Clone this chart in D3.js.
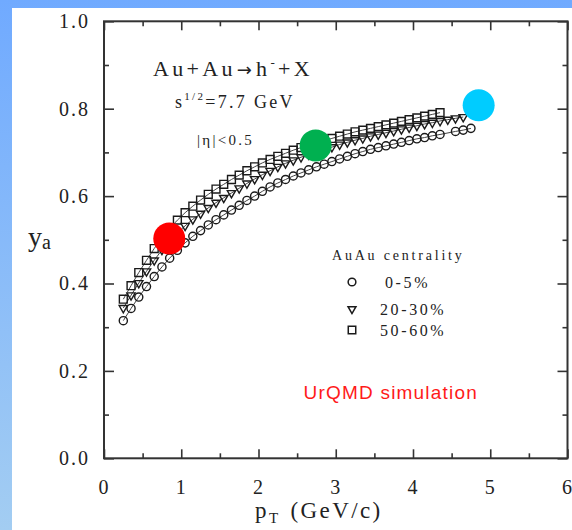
<!DOCTYPE html>
<html>
<head>
<meta charset="utf-8">
<script src="https://cdn.jsdelivr.net/npm/d3@7"></script>
<style>
  html, body { margin: 0; padding: 0; }
  body { width: 572px; height: 530px; overflow: hidden; }
  svg { display: block; }
</style>
</head>
<body>
<svg id="chart" width="572" height="530"></svg>
<script>
// y_a vs pT, UrQMD Au+Au 7.7 GeV, three centralities
const ptCentral = [0.25, 0.35, 0.45, 0.55, 0.65, 0.75, 0.85, 0.95, 1.05, 1.15, 1.25, 1.35, 1.45, 1.55, 1.65,
  1.75, 1.85, 1.95, 2.05, 2.15, 2.25, 2.35, 2.45, 2.55, 2.65, 2.75, 2.85, 2.95, 3.05, 3.15, 3.25, 3.35,
  3.45, 3.55, 3.65, 3.75, 3.85, 3.95, 4.05, 4.15, 4.25, 4.35, 4.55, 4.65, 4.75];
const yCentral = [0.315, 0.343, 0.369, 0.393, 0.416, 0.438, 0.458, 0.476, 0.493, 0.508, 0.521, 0.534, 0.546,
  0.557, 0.568, 0.579, 0.590, 0.600, 0.611, 0.621, 0.630, 0.638, 0.646, 0.653, 0.660, 0.667, 0.673, 0.679,
  0.685, 0.691, 0.697, 0.702, 0.707, 0.711, 0.715, 0.719, 0.723, 0.727, 0.731, 0.734, 0.738, 0.741, 0.748,
  0.751, 0.755];

const ptMid = [0.25, 0.35, 0.45, 0.55, 0.65, 0.75, 0.85, 0.95, 1.05, 1.15, 1.25, 1.35, 1.45, 1.55, 1.65,
  1.75, 1.85, 1.95, 2.05, 2.15, 2.25, 2.35, 2.45, 2.55, 2.65, 2.75, 2.85, 2.95, 3.05, 3.15, 3.25, 3.35,
  3.45, 3.55, 3.65, 3.75, 3.85, 3.95, 4.05, 4.15, 4.25, 4.35, 4.45, 4.55, 4.65];
const yMid = [0.344, 0.373, 0.401, 0.428, 0.453, 0.477, 0.498, 0.516, 0.532, 0.547, 0.560, 0.573, 0.585,
  0.596, 0.607, 0.618, 0.629, 0.639, 0.649, 0.658, 0.667, 0.675, 0.682, 0.689, 0.695, 0.701, 0.707, 0.712,
  0.718, 0.723, 0.728, 0.732, 0.737, 0.741, 0.745, 0.749, 0.753, 0.757, 0.761, 0.765, 0.768, 0.772, 0.775,
  0.778, 0.781];

const ptPeriph = [0.25, 0.35, 0.45, 0.55, 0.65, 0.75, 0.85, 0.95, 1.05, 1.15, 1.25, 1.35, 1.45, 1.55, 1.65,
  1.75, 1.85, 1.95, 2.05, 2.15, 2.25, 2.35, 2.45, 2.55, 2.65, 2.75, 2.85, 2.95, 3.05, 3.15, 3.25, 3.35,
  3.45, 3.55, 3.65, 3.75, 3.85, 3.95, 4.05, 4.15, 4.25, 4.35];
const yPeriph = [0.364, 0.395, 0.425, 0.453, 0.480, 0.504, 0.526, 0.545, 0.562, 0.577, 0.591, 0.604, 0.616,
  0.627, 0.638, 0.648, 0.658, 0.667, 0.676, 0.684, 0.691, 0.698, 0.705, 0.711, 0.717, 0.722, 0.727, 0.732,
  0.737, 0.742, 0.747, 0.751, 0.755, 0.759, 0.763, 0.767, 0.771, 0.775, 0.779, 0.783, 0.787, 0.791];

const seriesLabels = ['0-5%', '20-30%', '50-60%'];

// the three big highlight dots
const markPt = [0.845, 2.74, 4.85];
const markY = [0.503, 0.716, 0.808];
const markColors = ['#ff0000', '#00b050', '#00ccff'];

const xTicks = [0, 1, 2, 3, 4, 5, 6];
const yTicks = [0.0, 0.2, 0.4, 0.6, 0.8, 1.0];

const serif = "'Liberation Serif', 'Times New Roman', serif";

let svg = d3.select('#chart'),
    width = +svg.attr('width'),
    height = +svg.attr('height');

let margin = {top: 21.3, right: 4.5, bottom: 71.7, left: 104};

let x = d3.scaleLinear()
  .domain([0, 6])
  .range([margin.left, width - margin.right]);
let y = d3.scaleLinear()
  .domain([0, 1])
  .range([height - margin.bottom, margin.top]);

// blue slide background
let grad = svg.append('defs').append('linearGradient')
  .attr('id', 'bg')
  .attr('x1', 0).attr('y1', 0).attr('x2', 0).attr('y2', 1);
grad.append('stop').attr('offset', '0%').attr('stop-color', '#70aaff');
grad.append('stop').attr('offset', '100%').attr('stop-color', '#a3cdf2');

svg.append('rect')
  .attr('width', width).attr('height', height)
  .attr('fill', 'url(#bg)');
svg.append('rect')
  .attr('x', 12).attr('y', 8)
  .attr('width', width - 12).attr('height', height - 8)
  .attr('fill', '#fff');

// axes: majors with labels, minors without, mirrored on top/right
function styleAxis(g) {
  g.select('.domain').remove();
  g.selectAll('line').attr('stroke', '#333').attr('stroke-width', 1.6);
  g.selectAll('text')
    .attr('fill', '#222')
    .attr('font-family', serif)
    .attr('font-size', 20)
    .attr('letter-spacing', 2);
}

let bottom = height - margin.bottom;

svg.append('g')
  .attr('transform', `translate(0,${bottom})`)
  .call(d3.axisBottom(x).tickValues(d3.range(0.5, 6, 1)).tickSize(-5).tickFormat(''))
  .call(styleAxis);
svg.append('g')
  .attr('transform', `translate(0,${bottom})`)
  .call(d3.axisBottom(x).tickValues(xTicks).tickSize(-9).tickPadding(22).tickFormat(d3.format('d')))
  .call(styleAxis);
svg.append('g')
  .attr('transform', `translate(0,${margin.top})`)
  .call(d3.axisTop(x).tickValues(d3.range(0.5, 6, 1)).tickSize(-5).tickFormat(''))
  .call(styleAxis);
svg.append('g')
  .attr('transform', `translate(0,${margin.top})`)
  .call(d3.axisTop(x).tickValues(xTicks).tickSize(-9).tickFormat(''))
  .call(styleAxis);

svg.append('g')
  .attr('transform', `translate(${margin.left},0)`)
  .call(d3.axisLeft(y).tickValues(d3.range(0.1, 1, 0.2)).tickSize(-5).tickFormat(''))
  .call(styleAxis);
svg.append('g')
  .attr('transform', `translate(${margin.left},0)`)
  .call(d3.axisLeft(y).tickValues(yTicks).tickSize(-10).tickPadding(14).tickFormat(d3.format('.1f')))
  .call(styleAxis);
svg.append('g')
  .attr('transform', `translate(${width - margin.right},0)`)
  .call(d3.axisRight(y).tickValues(d3.range(0.1, 1, 0.2)).tickSize(-5).tickFormat(''))
  .call(styleAxis);
svg.append('g')
  .attr('transform', `translate(${width - margin.right},0)`)
  .call(d3.axisRight(y).tickValues(yTicks).tickSize(-10).tickFormat(''))
  .call(styleAxis);

// frame
svg.append('rect')
  .attr('x', x(0)).attr('y', y(1))
  .attr('width', x(6) - x(0)).attr('height', y(0) - y(1))
  .attr('fill', 'none')
  .attr('stroke', '#333')
  .attr('stroke-width', 2);

// series
let series = [
  {data: d3.zip(ptCentral, yCentral), shape: d3.symbolCircle, size: 52, rot: 0},
  {data: d3.zip(ptMid, yMid), shape: d3.symbolTriangle, size: 30, rot: 180},
  {data: d3.zip(ptPeriph, yPeriph), shape: d3.symbolSquare, size: 62, rot: 0}
];

let line = d3.line()
  .x(d => x(d[0]))
  .y(d => y(d[1]));

let plot = svg.append('g').attr('class', 'series');

series.forEach(s => {
  plot.append('path')
    .datum(s.data)
    .attr('d', line)
    .attr('fill', 'none')
    .attr('stroke', '#444')
    .attr('stroke-width', 1);

  plot.append('g')
    .selectAll('path')
    .data(s.data)
    .enter().append('path')
    .attr('d', d3.symbol().type(s.shape).size(s.size))
    .attr('transform', d => `translate(${x(d[0])},${y(d[1])})rotate(${s.rot})`)
    .attr('fill', 'none')
    .attr('stroke', '#1a1a1a')
    .attr('stroke-width', 1.4);
});

// highlight dots
svg.append('g')
  .selectAll('circle')
  .data(markPt)
  .enter().append('circle')
  .attr('cx', d => x(d))
  .attr('cy', (d, i) => y(markY[i]))
  .attr('r', 16)
  .attr('fill', (d, i) => markColors[i]);

// annotation text
let title = svg.append('text')
  .attr('x', 153).attr('y', 76)
  .attr('font-family', serif)
  .attr('font-size', 22)
  .attr('letter-spacing', 3.3)
  .attr('fill', '#222');
title.append('tspan').text('Au+Au');
title.append('tspan').attr('font-family', 'DejaVu Sans').attr('font-size', 18).attr('dx', 1).text('\u2192');
title.append('tspan').attr('dx', 1).text('h');
title.append('tspan').attr('font-size', 13).attr('dy', -9).text('-');
title.append('tspan').attr('dy', 9).text('+X');

let energy = svg.append('text')
  .attr('x', 175).attr('y', 108)
  .attr('font-family', serif)
  .attr('font-size', 18)
  .attr('letter-spacing', 2.3)
  .attr('fill', '#222');
energy.append('tspan').text('s');
energy.append('tspan').attr('font-size', 11).attr('dy', -8).text('1/2');
energy.append('tspan').attr('dy', 8).text('=7.7 GeV');

svg.append('text')
  .attr('x', 197).attr('y', 145)
  .attr('font-family', serif)
  .attr('font-size', 15)
  .attr('letter-spacing', 2.3)
  .attr('fill', '#222')
  .text('|\u03b7|<0.5');

// legend
svg.append('text')
  .attr('x', 332).attr('y', 260)
  .attr('font-family', serif)
  .attr('font-size', 14)
  .attr('letter-spacing', 2.8)
  .attr('fill', '#222')
  .text('AuAu centrality');

let legend = svg.append('g')
  .selectAll('g')
  .data(series)
  .enter().append('g')
  .attr('transform', (d, i) => `translate(352,${[282, 309, 330][i]})`);

legend.append('path')
  .attr('d', d => d3.symbol().type(d.shape).size(d.size * 0.9)())
  .attr('transform', d => `rotate(${d.rot})`)
  .attr('fill', 'none')
  .attr('stroke', '#1a1a1a')
  .attr('stroke-width', 1.5);

legend.append('text')
  .attr('x', (d, i) => i === 0 ? 33 : 28)
  .attr('y', 6)
  .attr('font-family', serif)
  .attr('font-size', 16)
  .attr('letter-spacing', 2.6)
  .attr('fill', '#222')
  .text((d, i) => seriesLabels[i]);

svg.append('text')
  .attr('x', 478).attr('y', 399)
  .attr('text-anchor', 'end')
  .attr('font-family', "'Liberation Sans', Arial, sans-serif")
  .attr('font-size', 19)
  .attr('letter-spacing', 1.2)
  .attr('fill', '#ff1a1a')
  .text('UrQMD simulation');

// axis titles
let xTitle = svg.append('text')
  .attr('x', 255).attr('y', 518)
  .attr('font-family', serif)
  .attr('font-size', 23)
  .attr('letter-spacing', 2.4)
  .attr('fill', '#222');
xTitle.append('tspan').text('p');
xTitle.append('tspan').attr('font-size', 15).attr('dy', 5).text('T');
xTitle.append('tspan').attr('dy', -5).attr('dx', 10).text('(GeV/c)');

let yTitle = svg.append('text')
  .attr('x', 28).attr('y', 246)
  .attr('font-family', serif)
  .attr('font-size', 28)
  .attr('fill', '#222');
yTitle.append('tspan').text('y');
yTitle.append('tspan').attr('font-size', 20).attr('dy', 3).text('a');
</script>
</body>
</html>
